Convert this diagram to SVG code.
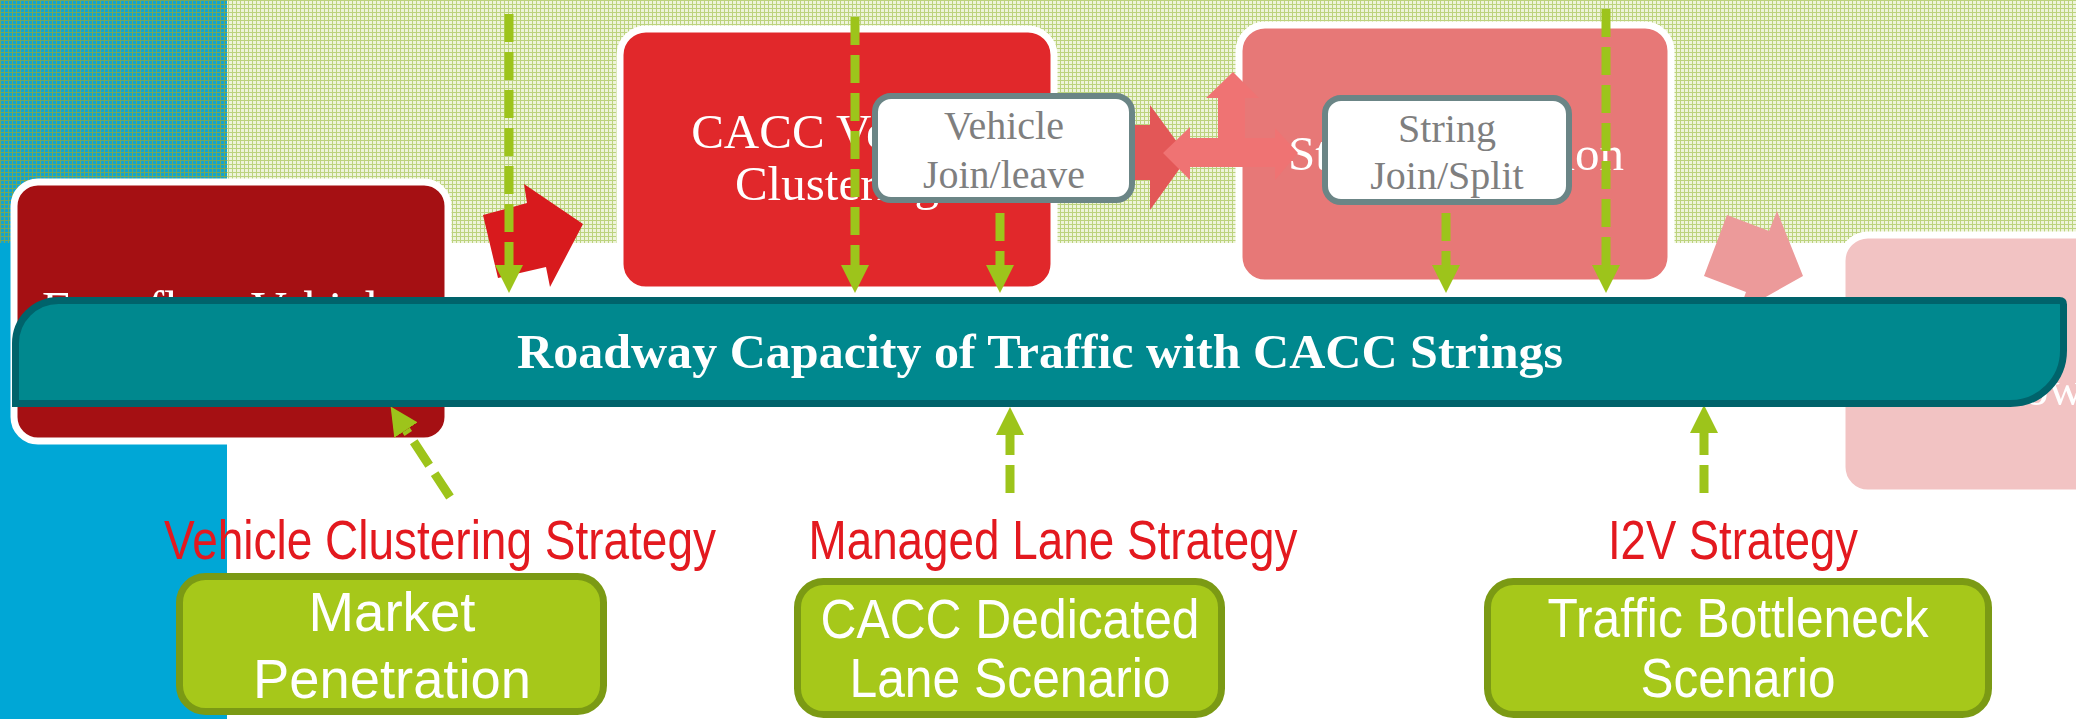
<svg xmlns="http://www.w3.org/2000/svg" width="2076" height="719" viewBox="0 0 2076 719">
<defs>
  <pattern id="pgreen" width="4" height="4" patternUnits="userSpaceOnUse">
    <rect width="4" height="4" fill="#EEF4DA"/>
    <path d="M0 0.5H4M0.5 0V4" stroke="#BCD37E" stroke-width="1"/>
  </pattern>
  <pattern id="pteal" width="4" height="4" patternUnits="userSpaceOnUse">
    <rect width="4" height="4" fill="#12A4D0"/>
    <path d="M0 0.5H4M0.5 0V4" stroke="#72A85C" stroke-width="1"/>
  </pattern>
  <marker id="ah" viewBox="0 0 28 28" refX="0" refY="14" markerWidth="28" markerHeight="28" markerUnits="userSpaceOnUse" orient="auto">
    <path d="M0,0 L28,14 L0,28 z" fill="#9DC41B"/>
  </marker>
  <style>
    .box { stroke: #FFFFFF; stroke-width: 7; }
    .serifW { font-family: "Liberation Serif", "Times New Roman", serif; fill: #FFFFFF; text-anchor: middle; }
    .sub { fill: #FFFFFF; stroke: #6B8586; stroke-width: 6; }
    .subT { font-family: "Liberation Serif", "Times New Roman", serif; fill: #7F7F7F; font-size: 40px; text-anchor: middle; }
    .dash { stroke: #9DC41B; stroke-width: 9; stroke-dasharray: 28 10; fill: none; marker-end: url(#ah); }
    .gbox { fill: #A6C81A; stroke: #7B9A14; stroke-width: 7; }
    .gT { font-family: "Liberation Sans", Arial, sans-serif; fill: #FFFFFF; font-size: 55px; text-anchor: middle; }
    .strat { font-family: "Liberation Sans", Arial, sans-serif; fill: #E3191F; font-size: 56px; text-anchor: middle; }
  </style>
</defs>

<!-- background -->
<rect x="0" y="0" width="2076" height="719" fill="#FFFFFF"/>
<rect x="227" y="0" width="1849" height="243" fill="url(#pgreen)"/>
<rect x="0" y="0" width="227" height="243" fill="url(#pteal)"/>
<rect x="0" y="243" width="227" height="476" fill="#00A7D6"/>

<!-- nodes behind band -->
<g id="free-flow">
  <rect class="box" x="14" y="182" width="434" height="259" rx="24" fill="#A51013"/>
  <text class="serifW" x="231" y="326" font-size="50">Free-flow Vehicles</text>
</g>
<g id="cacc-clustering">
  <rect class="box" x="620" y="29" width="434" height="261" rx="26" fill="#E1282B"/>
  <text class="serifW" x="837" y="148" font-size="49">CACC Vehicle</text>
  <text class="serifW" x="837" y="200" font-size="49">Clustering</text>
</g>
<g id="string-formation">
  <rect class="box" x="1239" y="25" width="432" height="258" rx="26" fill="#E77877"/>
  <text class="serifW" x="1456" y="170" font-size="49">String Formation</text>
</g>
<g id="flow-box">
  <rect class="box" x="1842" y="235" width="300" height="258" rx="26" fill="#F2C3C3"/>
  <text class="serifW" x="2054" y="405" font-size="49">ow</text>
</g>
<g id="join-leave">
  <rect class="sub" x="875" y="96" width="257" height="104" rx="16"/>
  <text class="subT" x="1004" y="139">Vehicle</text>
  <text class="subT" x="1004" y="188">Join/leave</text>
</g>
<g id="join-split">
  <rect class="sub" x="1325" y="98" width="244" height="104" rx="16"/>
  <text class="subT" x="1447" y="142">String</text>
  <text class="subT" x="1447" y="189">Join/Split</text>
</g>

<!-- connectors -->
<g id="connectors">
  <polygon points="483,215 527,203 524,184 583,224 550,287 546,267 498,278" fill="#D81A1D"/>
  <polygon points="1135,125 1150,125 1150,105 1188,157 1150,210 1150,180 1135,180" fill="#E35757"/>
  <polygon points="1163,153 1190,127 1190,138 1218,138 1218,98 1206,98 1233,72 1259,98 1245,98 1245,138 1275,138 1275,128 1298,153 1275,180 1275,167 1190,167 1190,180" fill="#EF7373"/>
  <polygon points="1704,276 1727,215 1769,231 1777,211 1803,276 1739,312 1746,292" fill="#EC9A9A"/>
  <line class="dash" x1="509" y1="14" x2="509" y2="265"/>
  <line class="dash" x1="855" y1="17" x2="855" y2="265"/>
  <line class="dash" x1="1000" y1="213" x2="1000" y2="265"/>
  <line class="dash" x1="1446" y1="213" x2="1446" y2="265"/>
  <line class="dash" x1="1606" y1="9" x2="1606" y2="265"/>
  <line class="dash" x1="450" y1="497" x2="406" y2="430"/>
  <line class="dash" x1="1010" y1="493" x2="1010" y2="435"/>
  <line class="dash" x1="1704" y1="493" x2="1704" y2="433"/>
</g>

<!-- band -->
<g id="roadway-capacity">
  <path d="M15.5 403.5 L15.5 343.5 A43 43 0 0 1 58.5 300.5 L2059.5 300.5 Q2063.5 300.5 2063.5 304.5 L2063.5 350.5 A53 53 0 0 1 2010.5 403.5 Z" fill="#00888E" stroke="#00636B" stroke-width="7"/>
  <text x="1040" y="368" font-family="'Liberation Serif', 'Times New Roman', serif" font-weight="bold" font-size="48" fill="#FFFFFF" text-anchor="middle" textLength="1046" lengthAdjust="spacingAndGlyphs">Roadway Capacity of Traffic with CACC Strings</text>
</g>

<!-- strategies -->
<g id="strategy-clustering">
  <text class="strat" x="440" y="559" textLength="552" lengthAdjust="spacingAndGlyphs">Vehicle Clustering Strategy</text>
</g>
<g id="strategy-managed-lane">
  <text class="strat" x="1053" y="559" textLength="489" lengthAdjust="spacingAndGlyphs">Managed Lane Strategy</text>
</g>
<g id="strategy-i2v">
  <text class="strat" x="1733" y="559" textLength="250" lengthAdjust="spacingAndGlyphs">I2V Strategy</text>
</g>

<!-- scenario boxes -->
<g id="market-penetration">
  <rect class="gbox" x="179.5" y="576.5" width="424" height="135" rx="26"/>
  <text class="gT" x="392" y="631" textLength="167" lengthAdjust="spacingAndGlyphs">Market</text>
  <text class="gT" x="392" y="698" textLength="278" lengthAdjust="spacingAndGlyphs">Penetration</text>
</g>
<g id="cacc-dedicated-lane">
  <rect class="gbox" x="797.5" y="581.5" width="424" height="133" rx="26"/>
  <text class="gT" x="1010" y="638" textLength="379" lengthAdjust="spacingAndGlyphs">CACC Dedicated</text>
  <text class="gT" x="1010" y="697" textLength="321" lengthAdjust="spacingAndGlyphs">Lane Scenario</text>
</g>
<g id="traffic-bottleneck">
  <rect class="gbox" x="1487.5" y="581.5" width="501" height="133" rx="26"/>
  <text class="gT" x="1738" y="637" textLength="381" lengthAdjust="spacingAndGlyphs">Traffic Bottleneck</text>
  <text class="gT" x="1738" y="697" textLength="195" lengthAdjust="spacingAndGlyphs">Scenario</text>
</g>
</svg>
